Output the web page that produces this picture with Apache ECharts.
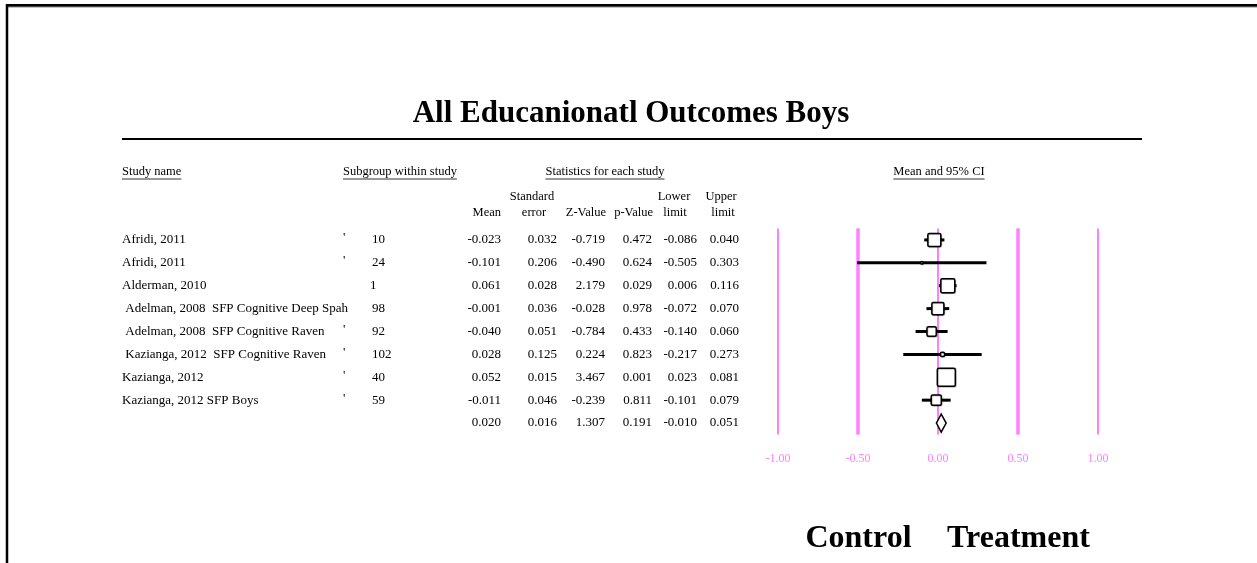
<!DOCTYPE html>
<html>
<head>
<meta charset="utf-8">
<script src="https://cdn.jsdelivr.net/npm/echarts@6/dist/echarts.min.js"></script>
<style>
  html, body { margin: 0; padding: 0; background: #fff; }
  #chart { width: 1257px; height: 563px; }
</style>
</head>
<body>
<div id="chart"></div>
<script>
// Per-study statistics (last row is the pooled estimate)
const studyNames = [
  'Afridi, 2011',
  'Afridi, 2011',
  'Alderman, 2010',
  ' Adelman, 2008  SFP Cognitive Deep Spah',
  ' Adelman, 2008  SFP Cognitive Raven',
  ' Kazianga, 2012  SFP Cognitive Raven',
  'Kazianga, 2012',
  'Kazianga, 2012 SFP Boys',
  ''
];
const subgroupMarks = ["'", "'", '', '', "'", "'", "'", "'", ''];
const subgroups = ['10', '24', '1', '98', '92', '102', '40', '59', ''];
const means = [-0.023, -0.101, 0.061, -0.001, -0.040, 0.028, 0.052, -0.011, 0.020];
const stdErrors = [0.032, 0.206, 0.028, 0.036, 0.051, 0.125, 0.015, 0.046, 0.016];
const zValues = [-0.719, -0.490, 2.179, -0.028, -0.784, 0.224, 3.467, -0.239, 1.307];
const pValues = [0.472, 0.624, 0.029, 0.978, 0.433, 0.823, 0.001, 0.811, 0.191];
const lowerLimits = [-0.086, -0.505, 0.006, -0.072, -0.140, -0.217, 0.023, -0.101, -0.010];
const upperLimits = [0.040, 0.303, 0.116, 0.070, 0.060, 0.273, 0.081, 0.079, 0.051];
const axisTicks = [-1, -0.5, 0, 0.5, 1];

const pooledRow = studyNames.length - 1;
const rowIndex = studyNames.map((_, i) => i);

const SERIF = '"Liberation Serif", "Times New Roman", serif';
const PINK = '#ff80ff';
const cellFont = '13px ' + SERIF;
const headFont = '12.5px ' + SERIF;

// Marker size follows the study weight (between-study variance included)
const TAU2 = 0.00064;
const weights = stdErrors.map(se => 1 / (se * se + TAU2));
const maxWeight = Math.max(...weights.slice(0, pooledRow));
const markerSize = i => Math.max(2, 18 * Math.sqrt(weights[i] / maxWeight));

// Measure text width so the section headers can be underlined
const measureCtx = document.createElement('canvas').getContext('2d');
function textWidth(str, font) {
  measureCtx.font = font;
  return measureCtx.measureText(str).width;
}

function underlinedHeader(str, x, y, align) {
  const w = textWidth(str, headFont);
  const x0 = align === 'center' ? x - w / 2 : x;
  return [
    { type: 'text', style: { text: str, x: x, y: y, font: headFont, fill: '#000', textAlign: align, textVerticalAlign: 'middle' } },
    { type: 'line', shape: { x1: x0, y1: y + 7, x2: x0 + w, y2: y + 7 }, style: { stroke: '#333', lineWidth: 1 } }
  ];
}

// Right edges of the numeric columns
const numCols = [
  { arr: means, x: 501 },
  { arr: stdErrors, x: 557 },
  { arr: zValues, x: 605 },
  { arr: pValues, x: 652 },
  { arr: lowerLimits, x: 697 },
  { arr: upperLimits, x: 739 }
];

const chart = echarts.init(document.getElementById('chart'), null, { renderer: 'canvas' });

const headText = (text, x, y, align) => ({
  type: 'text',
  style: { text: text, x: x, y: y, font: headFont, fill: '#000', textAlign: align, textVerticalAlign: 'middle' }
});

const graphicElements = [
  // page frame
  { type: 'line', shape: { x1: 6, y1: 5.5, x2: 1257, y2: 5.5 }, style: { stroke: '#000', lineWidth: 3 } },
  { type: 'line', shape: { x1: 7, y1: 7, x2: 1257, y2: 7 }, style: { stroke: '#888', lineWidth: 1 } },
  { type: 'line', shape: { x1: 7, y1: 4, x2: 7, y2: 563 }, style: { stroke: '#000', lineWidth: 2.5 } },
  // title
  { type: 'text', style: { text: 'All Educanionatl Outcomes Boys', x: 631, y: 114, font: 'bold 31px ' + SERIF, fill: '#000', textAlign: 'center', textVerticalAlign: 'middle' } },
  { type: 'line', shape: { x1: 122, y1: 139, x2: 1142, y2: 139 }, style: { stroke: '#000', lineWidth: 2 } },
  // column headers
  ...underlinedHeader('Study name', 122, 172, 'left'),
  ...underlinedHeader('Subgroup within study', 343, 172, 'left'),
  ...underlinedHeader('Statistics for each study', 605, 172, 'center'),
  ...underlinedHeader('Mean and 95% CI', 939, 172, 'center'),
  headText('Mean', 501, 213, 'right'),
  headText('Standard', 532, 197, 'center'),
  headText('error', 534, 213, 'center'),
  headText('Z-Value', 606, 213, 'right'),
  headText('p-Value', 653, 213, 'right'),
  headText('Lower', 674, 197, 'center'),
  headText('limit', 675, 213, 'center'),
  headText('Upper', 721, 197, 'center'),
  headText('limit', 723, 213, 'center'),
  // direction labels under the plot
  { type: 'text', style: { text: 'Control', x: 858.5, y: 539, font: 'bold 32px ' + SERIF, fill: '#000', textAlign: 'center', textVerticalAlign: 'middle' } },
  { type: 'text', style: { text: 'Treatment', x: 1018.5, y: 539, font: 'bold 32px ' + SERIF, fill: '#000', textAlign: 'center', textVerticalAlign: 'middle' } }
];

// Table rows, positioned on the shared category axis
function renderTableRow(params, api) {
  const i = params.dataIndex;
  const y = api.coord([0, i])[1];
  const children = [];
  const txt = (text, x, align, dy) => ({
    type: 'text',
    style: { text: text, x: x, y: y + (dy || 0), font: cellFont, fill: '#000', textAlign: align, textVerticalAlign: 'middle' }
  });
  if (studyNames[i]) children.push(txt(studyNames[i], 122, 'left'));
  if (subgroupMarks[i]) children.push(txt(subgroupMarks[i], 343, 'left', -2));
  if (subgroups[i]) children.push(txt(subgroups[i], subgroups[i] === '1' ? 370 : 372, 'left'));
  numCols.forEach(c => children.push(txt(c.arr[i].toFixed(3), c.x, 'right')));
  return { type: 'group', children: children };
}

// Confidence intervals with weighted squares, pooled estimate as a diamond
function renderForestRow(params, api) {
  const i = params.dataIndex;
  const mean = api.value(0);
  const lo = api.value(2);
  const hi = api.value(3);
  const c = api.coord([mean, i]);
  const pl = api.coord([lo, i]);
  const ph = api.coord([hi, i]);
  if (i === pooledRow) {
    return {
      type: 'polygon',
      shape: { points: [[pl[0], c[1]], [c[0], c[1] - 9], [ph[0], c[1]], [c[0], c[1] + 9]] },
      style: { fill: '#fff', stroke: '#000', lineWidth: 1.5 }
    };
  }
  const s = markerSize(i);
  return {
    type: 'group',
    children: [
      { type: 'line', shape: { x1: pl[0], y1: c[1], x2: ph[0], y2: c[1] }, style: { stroke: '#000', lineWidth: 3 } },
      { type: 'rect', shape: { x: c[0] - s / 2, y: c[1] - s / 2, width: s, height: s, r: 1.5 },
        style: { fill: '#fff', stroke: '#000', lineWidth: 1.5, shadowColor: 'rgba(0,0,0,0.35)', shadowBlur: 1, shadowOffsetX: 0.5, shadowOffsetY: 0.5 } }
    ]
  };
}

chart.setOption({
  animation: false,
  backgroundColor: '#fff',
  grid: { left: 778, width: 320, top: 228.5, height: 206 },
  xAxis: {
    type: 'value',
    min: axisTicks[0],
    max: axisTicks[axisTicks.length - 1],
    interval: 0.5,
    axisLine: { show: false },
    axisTick: { show: false },
    splitLine: { show: true, lineStyle: { color: PINK, width: 2 } },
    axisLabel: {
      color: PINK,
      fontFamily: SERIF,
      fontSize: 12,
      margin: 18,
      formatter: v => v.toFixed(2)
    }
  },
  yAxis: {
    type: 'category',
    inverse: true,
    data: rowIndex.map(String),
    boundaryGap: true,
    show: false
  },
  graphic: graphicElements,
  series: [
    {
      // heavier reference lines at ±0.50
      type: 'line',
      data: [],
      silent: true,
      markLine: {
        symbol: 'none',
        silent: true,
        label: { show: false },
        lineStyle: { color: PINK, width: 3.5, type: 'solid' },
        data: [{ xAxis: -0.5 }, { xAxis: 0.5 }]
      }
    },
    {
      type: 'custom',
      renderItem: renderTableRow,
      data: rowIndex.map(i => [0, i]),
      silent: true,
      z: 5
    },
    {
      type: 'custom',
      renderItem: renderForestRow,
      data: rowIndex.map(i => [means[i], i, lowerLimits[i], upperLimits[i]]),
      encode: { x: 0, y: 1 },
      silent: true,
      z: 10
    }
  ]
});
</script>
</body>
</html>
